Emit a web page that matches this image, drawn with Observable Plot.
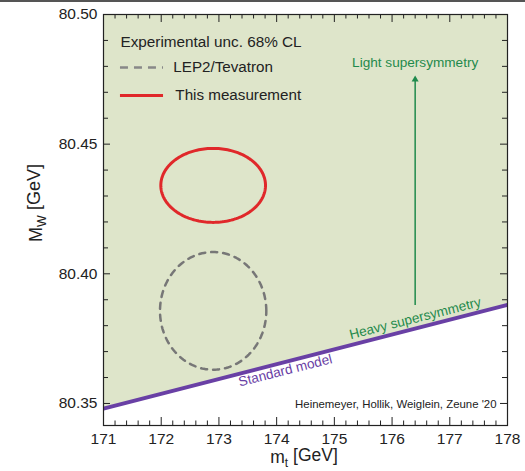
<!DOCTYPE html>
<html>
<head>
<meta charset="utf-8">
<script src="https://cdn.jsdelivr.net/npm/d3@7"></script>
<script src="https://cdn.jsdelivr.net/npm/@observablehq/plot@0.6"></script>
<style>
  html, body { margin: 0; padding: 0; background: #fff; }
  #wrap { position: relative; width: 525px; height: 471px; }
  #topline { position: absolute; left: 0; top: 0; width: 525px; height: 2px; background: #555; }
</style>
</head>
<body>
<div id="wrap"><div id="topline"></div></div>
<script>
// Top-quark mass (GeV) and W-boson mass (GeV)
const xTicks = [171, 172, 173, 174, 175, 176, 177, 178];
const yTicks = [80.35, 80.40, 80.45, 80.50];

// Standard-model prediction band edge
const smMt = [171, 178];
const smMw = [80.348, 80.388];

// 68% CL contours: [centre mt, centre MW, half-width mt, half-width MW]
const lepTevatron = [172.90, 80.3857, 0.921, 0.0227];
const thisMeasurement = [172.90, 80.4341, 0.907, 0.01427];

// Supersymmetry arrow: mt, MW from, MW to
const susyArrow = [176.40, 80.3878, 80.4746];

const labels = {
  light: "Light supersymmetry",
  heavy: "Heavy supersymmetry",
  sm: "Standard model",
  legendTitle: "Experimental unc. 68% CL",
  lep: "LEP2/Tevatron",
  meas: "This measurement",
  credit: "Heinemeyer, Hollik, Weiglein, Zeune '20"
};

const W = 525, H = 471;
const mTop = 14, mBottom = 46, mLeft = 103, mRight = 18;
const plotH = H - mTop - mBottom, plotW = W - mLeft - mRight;
const font = "'Liberation Sans', Arial, Helvetica, sans-serif";

const smData = smMt.map((mt, i) => ({mt, mw: smMw[i]}));

function contour([cx, cy, rx, ry]) {
  return d3.range(0, 181).map(i => {
    const t = 2 * Math.PI * i / 180;
    return {mt: cx + rx * Math.cos(t), mw: cy + ry * Math.sin(t)};
  });
}

const xMinor = d3.range(0, 36).map(i => 171 + i * 0.2).filter(v => Math.abs(v - Math.round(v)) > 1e-6);
const yAll = d3.range(0, 16).map(i => +(80.35 + i * 0.01).toFixed(2));
const yMinor = yAll.filter(v => !yTicks.some(t => Math.abs(t - v) < 1e-6));

const green = "#1f8a4c", purple = "#6940a5";

const chart = Plot.plot({
  width: W, height: H,
  marginTop: mTop, marginBottom: mBottom, marginLeft: mLeft, marginRight: mRight,
  style: {fontFamily: font, color: "#222", background: "#fff"},
  x: {domain: [171, 178]},
  y: {domain: [80.3415, 80.50]},
  marks: [
    Plot.areaY(smData, {x: "mt", y1: "mw", y2: () => 80.50, fill: "#dee5ca"}),
    Plot.line(smData, {x: "mt", y: "mw", stroke: purple, strokeWidth: 4, clip: true}),
    Plot.line(contour(thisMeasurement), {x: "mt", y: "mw", stroke: "#e0282a", strokeWidth: 3}),
    Plot.line(contour(lepTevatron), {x: "mt", y: "mw", stroke: "#777", strokeWidth: 2.5, strokeDasharray: "6,6"}),
    // arrow towards light supersymmetry
    Plot.ruleX([susyArrow], {x: d => d[0], y1: d => d[1], y2: d => d[2], stroke: green, strokeWidth: 1.5}),
    Plot.dot([susyArrow], {x: d => d[0], y: d => d[2] + 0.0003, symbol: "triangle", r: 2.6, fill: green}),
    Plot.text([labels.light], {x: () => 176.40, y: () => 80.4815, text: d => d, fill: green, fontSize: 13.6}),
    Plot.text([labels.heavy], {x: () => 176.40, y: () => 80.3828, text: d => d, fill: green, fontSize: 13.6, rotate: -14.2}),
    Plot.text([labels.sm], {x: () => 174.15, y: () => 80.3627, text: d => d, fill: purple, fontSize: 13.6, rotate: -14.2}),
    // legend
    Plot.text([labels.legendTitle], {x: () => 171.294, y: () => 80.4892, text: d => d, textAnchor: "start", fontSize: 15.3, fill: "#222"}),
    Plot.ruleY([80.4796], {x1: 171.294, x2: 172.04, stroke: "#888", strokeWidth: 2.5, strokeDasharray: "8,6"}),
    Plot.text([labels.lep], {x: () => 172.21, y: () => 80.4796, text: d => d, textAnchor: "start", fontSize: 15.2, fill: "#222"}),
    Plot.ruleY([80.4688], {x1: 171.294, x2: 172.04, stroke: "#e0282a", strokeWidth: 3}),
    Plot.text([labels.meas], {x: () => 172.245, y: () => 80.4688, text: d => d, textAnchor: "start", fontSize: 15.2, fill: "#222"}),
    Plot.text([labels.credit], {frameAnchor: "bottom-right", dx: -11, dy: -18, text: d => d, textAnchor: "end", fontSize: 11.4, fill: "#222"}),
    // inward ticks, bottom and top
    Plot.tickX(xTicks, {x: d => d, insetTop: plotH - 8, stroke: "#222"}),
    Plot.tickX(xMinor, {x: d => d, insetTop: plotH - 4.5, stroke: "#222"}),
    Plot.tickX(xTicks, {x: d => d, insetBottom: plotH - 8, stroke: "#222"}),
    Plot.tickX(xMinor, {x: d => d, insetBottom: plotH - 4.5, stroke: "#222"}),
    // inward ticks, left and right
    Plot.tickY(yTicks, {y: d => d, insetRight: plotW - 7, stroke: "#222"}),
    Plot.tickY(yMinor, {y: d => d, insetRight: plotW - 5, stroke: "#222"}),
    Plot.tickY(yTicks, {y: d => d, insetLeft: plotW - 7, stroke: "#222"}),
    Plot.tickY(yMinor, {y: d => d, insetLeft: plotW - 5, stroke: "#222"}),
    Plot.axisX({ticks: xTicks, tickSize: 0, tickPadding: 7.5, fontSize: 15.5, label: null, tickFormat: d3.format("d")}),
    Plot.axisY({ticks: yTicks, tickSize: 0, tickPadding: 6, fontSize: 15.5, label: null, tickFormat: d3.format(".2f")}),
    Plot.frame({stroke: "#222", strokeWidth: 1.2})
  ]
});

// axis titles with subscripts
const svg = d3.select(chart);
const yTitle = svg.append("text")
  .attr("transform", "translate(42,203) rotate(-90)")
  .attr("text-anchor", "middle")
  .attr("font-size", 18).attr("fill", "#222").attr("font-family", font);
yTitle.append("tspan").text("M");
yTitle.append("tspan").attr("font-size", 12.5).attr("dy", "0.35em").text("W");
yTitle.append("tspan").attr("dy", "-0.35em").text(" [GeV]");

const xTitle = svg.append("text")
  .attr("x", 304).attr("y", 463)
  .attr("text-anchor", "middle")
  .attr("font-size", 17.5).attr("fill", "#222").attr("font-family", font);
xTitle.append("tspan").text("m");
xTitle.append("tspan").attr("font-size", 12).attr("dy", "0.3em").text("t");
xTitle.append("tspan").attr("dy", "-0.3em").text(" [GeV]");

document.getElementById("wrap").prepend(chart);
</script>
</body>
</html>
